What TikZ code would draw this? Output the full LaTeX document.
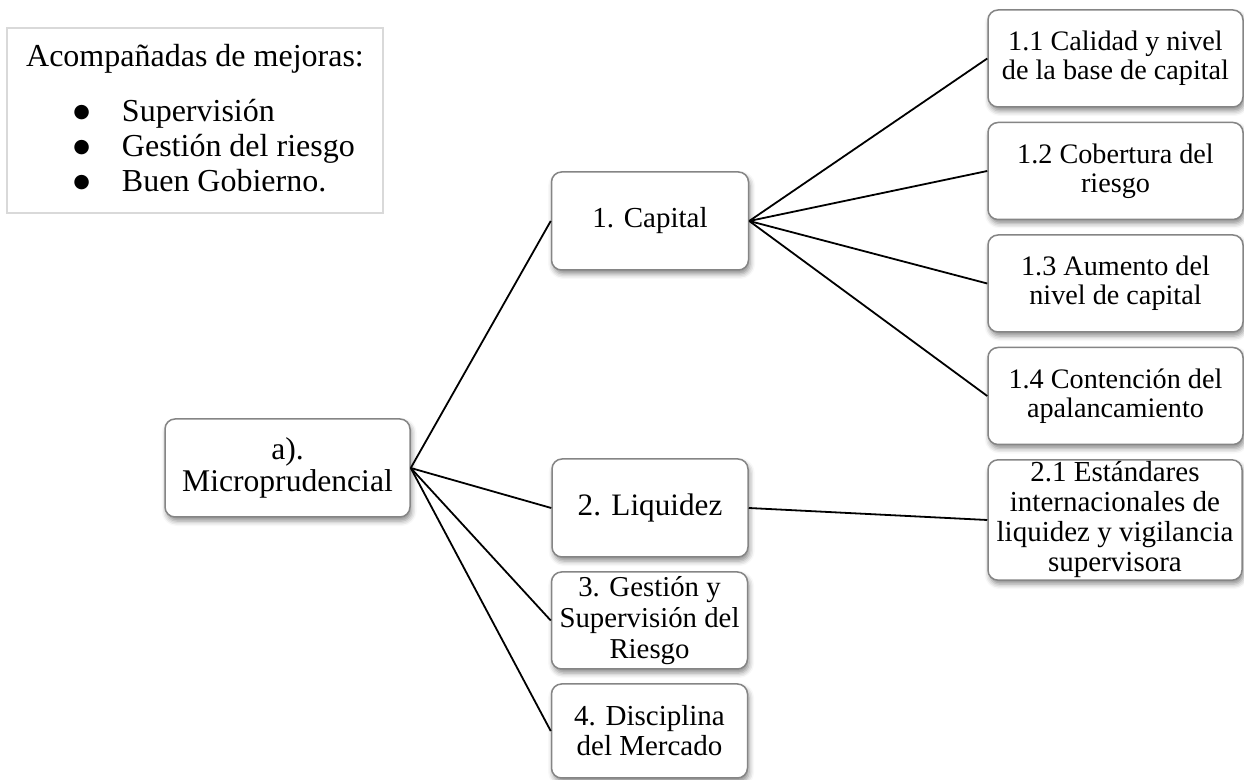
\documentclass[tikz,border=0pt]{standalone}
\usepackage{fontspec}
\setmainfont{Liberation Serif}
\newfontfamily\symbolfont{DejaVu Sans}
\usetikzlibrary{shadows.blur}
\definecolor{boxline}{HTML}{858585}
\definecolor{noteline}{HTML}{D9D9D9}
\newcommand{\bigbullet}{\raisebox{2.2pt}{\symbolfont\fontsize{9.5}{10}\selectfont ●}}
\tikzset{
  box/.style={draw=boxline, line width=0.75pt, fill=white, rounded corners=5pt,
    align=center, inner sep=1pt,
    font=\fontsize{14.5}{15}\selectfont,
    blur shadow={shadow xshift=0.8pt, shadow yshift=-2pt, shadow blur radius=2.5pt, shadow opacity=45}},
  big/.style={font=\fontsize{15.6}{15.6}\selectfont},
  small/.style={font=\fontsize{14.1}{14.6}\selectfont},
  link/.style={draw=black, line width=0.9pt},
  notebox/.style={draw=noteline, line width=1pt, fill=white},
  notetext/.style={font=\fontsize{16}{17.5}\selectfont, inner sep=0pt},
}
\begin{document}
\begin{tikzpicture}[x=0.5pt, y=-0.5pt]
\useasboundingbox (0,0) rectangle (1244,780);

% note with the accompanying improvements
\node[notebox, minimum width=188pt, minimum height=92.5pt] (note) at (195,120.5) {};
\node[notetext, anchor=base] (notetitle) at (195,67) {Acompañadas de mejoras:};
\node[notetext, anchor=base west] (notelist) at (73,122) {%
  \begin{tabular}[t]{@{}l@{\hspace{16pt}}l@{}}
    \bigbullet & Supervisión\\
    \bigbullet & Gestión del riesgo\\
    \bigbullet & Buen Gobierno.
  \end{tabular}};

% root
\node[box, font=\fontsize{15.8}{15.8}\selectfont, minimum width=122.5pt, minimum height=49pt] (micro) at (287.5,468) {a).\\Microprudencial};

% second level
\node[box, minimum width=98.5pt, minimum height=49pt] (cap) at (650,221) {1. Capital};
\node[box, big, minimum width=98pt, minimum height=49pt] (liq) at (650,508) {2. Liquidez};
\node[box, font=\fontsize{14.4}{15.6}\selectfont, minimum width=98pt, minimum height=48.5pt] (ges) at (649.5,620.5) {3. Gestión y\\Supervisión del\\Riesgo};
\node[box, minimum width=98pt, minimum height=47pt] (dis) at (649.5,731) {4. Disciplina\\del Mercado};

% third level
\node[box, small, minimum width=127.5pt, minimum height=48.5pt] (c11) at (1115.5,58.5) {1.1 Calidad y nivel\\de la base de capital};
\node[box, small, minimum width=127.5pt, minimum height=48.5pt] (c12) at (1115.5,171) {1.2 Cobertura del\\riesgo};
\node[box, small, minimum width=127.5pt, minimum height=48.5pt] (c13) at (1115.5,283.5) {1.3 Aumento del\\nivel de capital};
\node[box, small, minimum width=127.5pt, minimum height=48.5pt] (c14) at (1115.5,396) {1.4 Contención del\\apalancamiento};
\node[box, minimum width=127pt, minimum height=60pt] (c21) at (1115,520) {2.1 Estándares\\internacionales de\\liquidez y vigilancia\\supervisora};

% connectors
\draw[link] (micro.east) -- (cap.west);
\draw[link] (micro.east) -- (liq.west);
\draw[link] (micro.east) -- (ges.west);
\draw[link] (micro.east) -- (dis.west);
\draw[link] (cap.east) -- (c11.west);
\draw[link] (cap.east) -- (c12.west);
\draw[link] (cap.east) -- (c13.west);
\draw[link] (cap.east) -- (c14.west);
\draw[link] (liq.east) -- (c21.west);
\end{tikzpicture}
\end{document}
